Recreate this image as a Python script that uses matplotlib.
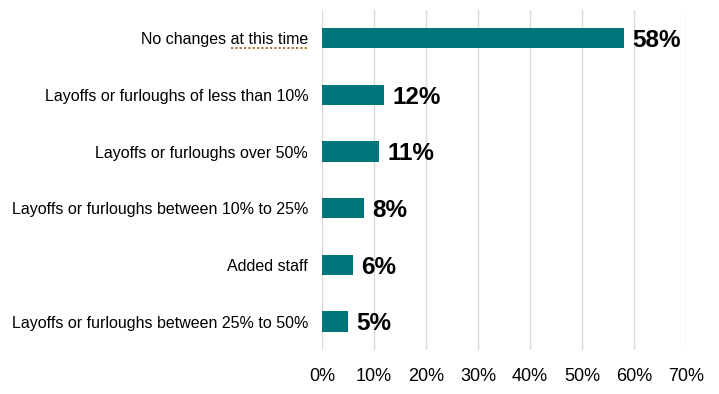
import matplotlib
matplotlib.use("Agg")
import matplotlib.pyplot as plt
from matplotlib.lines import Line2D

categories = [
    "No changes at this time",
    "Layoffs or furloughs of less than 10%",
    "Layoffs or furloughs over 50%",
    "Layoffs or furloughs between 10% to 25%",
    "Added staff",
    "Layoffs or furloughs between 25% to 50%",
]
values = [58, 12, 11, 8, 6, 5]
xticks = [0, 10, 20, 30, 40, 50, 60, 70]

plt.rcParams['font.family'] = ['Liberation Sans', 'DejaVu Sans']

fig = plt.figure(figsize=(7.19, 3.94), dpi=100)
ax = fig.add_axes([0.448, 0.112, 0.506, 0.863])

y = list(range(len(categories)))
ax.barh(y, values, height=0.36, color="#00767A", zorder=3)
ax.set_ylim(len(categories) - 0.5, -0.5)
ax.set_xlim(0, 70)
ax.set_yticks(y)
ax.set_yticklabels(categories, fontsize=11.5, color="#000000")
ax.set_xticks(xticks)
ax.set_xticklabels([f"{t}%" for t in xticks], fontsize=13, color="#000000")
ax.tick_params(axis='both', length=0)
ax.tick_params(axis='y', pad=10)
ax.tick_params(axis='x', pad=13)
ax.grid(axis='x', color="#d9d9d9", linewidth=1, zorder=0)
for s in ax.spines.values():
    s.set_visible(False)

for yi, v in zip(y, values):
    ax.text(v + 1.6, yi + 0.04, f"{v}%", va='center', ha='left', fontsize=17.5,
            fontweight='bold', color="#000000")

# dotted spell-check style underline under "at this time"
fig.canvas.draw()
renderer = fig.canvas.get_renderer()
lab = ax.get_yticklabels()[0]
bb = lab.get_window_extent(renderer)
tmp = fig.text(0, 0, "No changes ", fontsize=11.5)
wpre = tmp.get_window_extent(renderer).width
tmp.remove()
x0 = bb.x0 + wpre
x1 = bb.x1
yl = bb.y0 - 1
fig.add_artist(Line2D([x0 / fig.bbox.width, x1 / fig.bbox.width],
                      [yl / fig.bbox.height, yl / fig.bbox.height],
                      transform=fig.transFigure, color="#A0691E",
                      linewidth=1.3, linestyle=(0, (1.2, 1.2))))

fig.savefig("out.png", dpi=100)
